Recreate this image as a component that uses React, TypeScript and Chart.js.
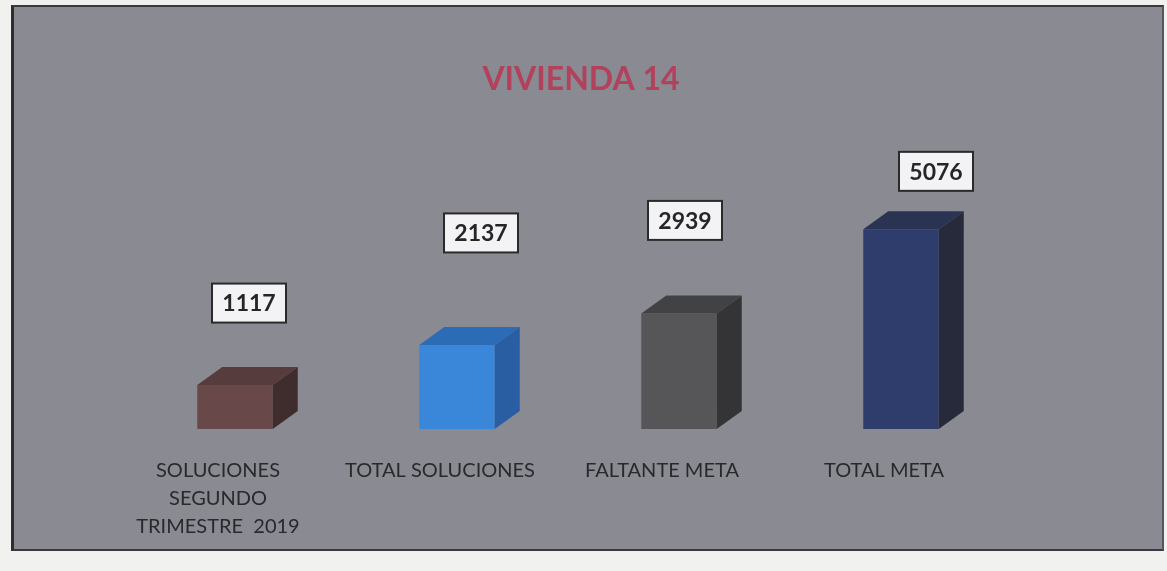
import React, { useEffect, useRef } from "react";
import { Chart, registerables } from "chart.js";

Chart.register(...registerables);

const titleText = "VIVIENDA 14";
const categories: (string | string[])[] = [
  ["SOLUCIONES", "SEGUNDO", "TRIMESTRE  2019"],
  "TOTAL SOLUCIONES",
  "FALTANTE META",
  "TOTAL META",
];
const values: number[] = [1117, 2137, 2939, 5076];
const frontColors = ["#684848", "#3a86d8", "#565659", "#2f3d6c"];
const topColors = ["#563c3c", "#2c6cb6", "#424245", "#2b3352"];
const sideColors = ["#3f2d2d", "#295ea2", "#343437", "#262a3b"];
const labelRise = [82, 112, 93, 58];
const labelShiftX = [14, 24, 6, 35];

const bar3d = {
  id: "bar3d",
  afterDatasetsDraw(chart: any) {
    const ctx = chart.ctx;
    const meta = chart.getDatasetMeta(0);
    const dx = 25;
    const dy = 18;
    meta.data.forEach((bar: any, i: number) => {
      const { x, y, base, width } = bar.getProps(["x", "y", "base", "width"], true);
      const l = x - width / 2;
      const r = x + width / 2;
      ctx.save();
      ctx.fillStyle = topColors[i];
      ctx.beginPath();
      ctx.moveTo(l, y);
      ctx.lineTo(l + dx, y - dy);
      ctx.lineTo(r + dx, y - dy);
      ctx.lineTo(r, y);
      ctx.closePath();
      ctx.fill();
      ctx.fillStyle = sideColors[i];
      ctx.beginPath();
      ctx.moveTo(r, y);
      ctx.lineTo(r + dx, y - dy);
      ctx.lineTo(r + dx, base - dy);
      ctx.lineTo(r, base);
      ctx.closePath();
      ctx.fill();

      // value label box
      const cx = x + labelShiftX[i];
      const cy = y - labelRise[i];
      const bw = 74;
      const bh = 39;
      ctx.fillStyle = "#f3f3f6";
      ctx.fillRect(cx - bw / 2, cy - bh / 2, bw, bh);
      ctx.lineWidth = 2;
      ctx.strokeStyle = "#2a2a2a";
      ctx.strokeRect(cx - bw / 2, cy - bh / 2, bw, bh);
      ctx.fillStyle = "#262626";
      ctx.font = "bold 23px Lato, 'Open Sans', sans-serif";
      ctx.textAlign = "center";
      ctx.textBaseline = "middle";
      ctx.fillText(String(values[i]), cx, cy + 1);
      ctx.restore();
    });
  },
};

const titleDraw = {
  id: "titleDraw",
  afterDraw(chart: any) {
    const ctx = chart.ctx;
    ctx.save();
    ctx.fillStyle = "#b2425c";
    ctx.font = "bold 32px Lato, 'Open Sans', sans-serif";
    ctx.textAlign = "center";
    ctx.textBaseline = "middle";
    ctx.fillText(titleText, chart.width / 2 - 7, 73);
    ctx.restore();
  },
};

export default function App() {
  const ref = useRef<HTMLCanvasElement>(null);
  useEffect(() => {
    if (!ref.current) return;
    const chart = new Chart(ref.current, {
      type: "bar",
      data: {
        labels: categories,
        datasets: [
          {
            data: values,
            backgroundColor: frontColors,
            borderWidth: 0,
            barPercentage: 0.34,
            categoryPercentage: 1,
          },
        ],
      },
      options: {
        animation: false,
        responsive: false,
        maintainAspectRatio: false,
        layout: { padding: { left: 110, right: 150, top: 186, bottom: 0 } },
        plugins: {
          legend: { display: false },
          tooltip: { enabled: false },
          title: { display: false },
        },
        scales: {
          x: {
            grid: { display: false },
            border: { display: false },
            ticks: {
              color: "#29292c",
              font: { family: "Lato, 'Open Sans', sans-serif", size: 20, lineHeight: 1.4 },
              labelOffset: -17,
              padding: 20,
              maxRotation: 0,
              autoSkip: false,
            },
            afterFit(scale: any) {
              scale.height = 120;
            },
          },
          y: {
            display: false,
            min: 0,
            max: 6000,
          },
        },
      },
      plugins: [bar3d, titleDraw],
    });
    return () => chart.destroy();
  }, []);

  return (
    <div
      style={{
        position: "fixed",
        left: 0,
        top: 0,
        width: 1167,
        height: 571,
        background: "#f1f1ef",
        overflow: "hidden",
      }}
    >
      <div
        style={{
          position: "absolute",
          left: 11,
          top: 5,
          width: 1148,
          height: 542,
          background: "#8a8a93",
          borderLeft: "3px solid #2e2e30",
          borderTop: "2px solid #3a3a3c",
          borderRight: "2px solid #55555a",
          borderBottom: "2px solid #3a3a3c",
        }}
      >
        <canvas ref={ref} width={1148} height={542} style={{ display: "block" }} />
      </div>
    </div>
  );
}
